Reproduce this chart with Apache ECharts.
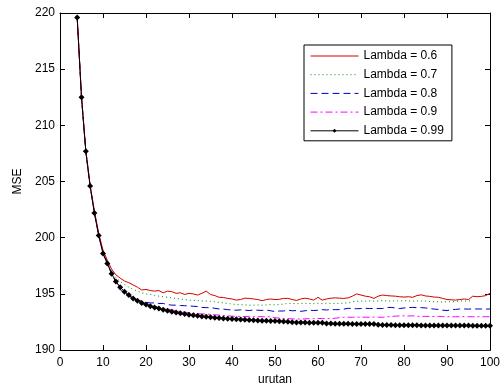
<!DOCTYPE html>
<html><head><meta charset="utf-8">
<script src="https://cdn.jsdelivr.net/npm/echarts@6/dist/echarts.min.js"></script>
<style>html,body{margin:0;padding:0;background:#fff}#c{width:503px;height:391px}</style>
</head><body><div id="c"></div>
<script>
const xStart = 4;
const seriesNames = ['Lambda = 0.6','Lambda = 0.7','Lambda = 0.8','Lambda = 0.9','Lambda = 0.99'];
const xTicks = [0,10,20,30,40,50,60,70,80,90,100];
const yTicks = [190,195,200,205,210,215,220];

const lambda06 = [219.6,212.6,207.8,204.7,202.4,200.4,198.9,198.0,197.2,196.7,196.4,196.15,196.0,195.8,195.6,195.35,195.4,195.3,195.25,195.3,195.1,195.25,195.2,195.05,195.1,194.95,195.05,195.0,194.9,195.05,195.25,194.95,194.85,194.7,194.68,194.6,194.55,194.45,194.5,194.62,194.6,194.55,194.5,194.4,194.5,194.55,194.5,194.52,194.6,194.6,194.5,194.42,194.55,194.62,194.55,194.45,194.7,194.45,194.55,194.62,194.65,194.62,194.6,194.65,194.8,195.0,194.9,194.8,194.75,194.6,194.8,194.9,194.85,194.82,194.8,194.75,194.72,194.75,194.7,194.85,194.92,194.82,194.78,194.72,194.7,194.6,194.5,194.48,194.45,194.5,194.55,194.5,194.8,194.75,194.78,194.85,195.05];
const lambda07 = [219.6,212.55,207.75,204.65,202.3,200.3,198.8,197.85,197.0,196.45,196.1,195.85,195.6,195.4,195.25,195.1,195.0,194.95,194.85,194.8,194.75,194.7,194.65,194.6,194.55,194.5,194.45,194.43,194.4,194.38,194.36,194.35,194.3,194.25,194.2,194.15,194.1,194.05,194.05,194.02,194.0,194.0,194.02,194.0,194.02,194.05,194.03,194.05,194.1,194.15,194.15,194.13,194.15,194.16,194.15,194.14,194.16,194.15,194.17,194.15,194.16,194.15,194.18,194.2,194.3,194.35,194.36,194.35,194.38,194.36,194.37,194.4,194.38,194.36,194.38,194.37,194.4,194.38,194.36,194.38,194.37,194.36,194.32,194.3,194.3,194.28,194.3,194.3,194.32,194.38,194.36,194.38,194.37];
const lambda08 = [219.6,212.5,207.7,204.6,202.25,200.25,198.7,197.75,196.85,196.1,195.4,195.0,194.8,194.6,194.45,194.35,194.25,194.2,194.2,194.15,194.15,194.05,194.0,194.0,193.97,193.95,193.93,193.9,193.88,193.8,193.78,193.78,193.72,193.66,193.65,193.6,193.57,193.55,193.58,193.55,193.52,193.57,193.55,193.53,193.56,193.5,193.43,193.48,193.48,193.55,193.5,193.52,193.45,193.5,193.55,193.52,193.55,193.6,193.57,193.6,193.6,193.6,193.65,193.72,193.7,193.68,193.7,193.72,193.7,193.7,193.7,193.7,193.78,193.8,193.75,193.7,193.75,193.78,193.8,193.78,193.78,193.75,193.7,193.65,193.62,193.55,193.52,193.6,193.62,193.66,193.66,193.65,193.66,193.66,193.66,193.65,193.66];
const lambda09 = [219.62,212.52,207.72,204.62,202.22,200.22,198.62,197.72,196.75,196.1,195.6,195.2,194.9,194.65,194.45,194.3,194.15,194.0,193.9,193.8,193.72,193.65,193.58,193.5,193.43,193.38,193.32,193.28,193.24,193.22,193.2,193.18,193.14,193.12,193.08,193.05,193.02,193.0,193.0,192.99,193.0,192.98,192.98,192.97,192.98,192.96,192.88,192.85,192.82,192.8,192.78,192.77,192.76,192.78,192.8,192.8,192.82,192.8,192.81,192.8,192.84,192.88,192.92,192.93,192.92,192.93,192.92,192.93,192.92,192.94,192.93,192.92,192.95,193.0,193.02,193.04,193.05,193.03,193.05,193.02,193.0,193.0,193.0,192.99,193.0,192.98,192.97,192.96,192.97,192.97,192.98,192.97,192.97,192.97,192.97,192.97,192.97];
const lambda099 = [219.6,212.5,207.7,204.6,202.2,200.2,198.6,197.7,196.8,196.1,195.6,195.2,194.9,194.6,194.4,194.2,194.05,193.9,193.8,193.7,193.6,193.5,193.42,193.35,193.28,193.22,193.15,193.1,193.05,193.0,192.96,192.92,192.88,192.85,192.82,192.79,192.76,192.74,192.72,192.7,192.68,192.66,192.64,192.62,192.61,192.6,192.58,192.56,192.54,192.52,192.48,192.46,192.45,192.45,192.44,192.44,192.43,192.43,192.36,192.36,192.35,192.35,192.34,192.34,192.33,192.33,192.33,192.32,192.32,192.32,192.25,192.24,192.23,192.23,192.22,192.22,192.22,192.21,192.21,192.21,192.2,192.2,192.2,192.2,192.19,192.19,192.19,192.19,192.18,192.18,192.18,192.18,192.17,192.17,192.17,192.17,192.16];

const allSeries = [lambda06, lambda07, lambda08, lambda09, lambda099];
const colors = ['#d40000','#008a00','#0000c8','#ff00ff','#000000'];
const dashes = ['solid',[1,3],[7,4],[7,3,2,3],'solid'];

function toPairs(arr){ return arr.map((v,i)=>[xStart+i, v]); }

const font = 'Liberation Sans, Arial, sans-serif';
const chart = echarts.init(document.getElementById('c'), null, {renderer:'canvas'});
const axisCommon = {
  axisLine:{show:true, onZero:false, lineStyle:{color:'#000', width:1}},
  axisTick:{show:true, inside:true, length:5, lineStyle:{color:'#000'}},
  splitLine:{show:false}
};
chart.setOption({
  animation:false,
  backgroundColor:'#fff',
  color: colors,
  grid:{left:60, right:10, top:13, bottom:37, containLabel:false},
  xAxis:[
    Object.assign({type:'value', min:0, max:100, interval:10, position:'bottom',
      name:'urutan', nameLocation:'middle', nameGap:23,
      nameTextStyle:{fontFamily:font, fontSize:12, color:'#000'},
      axisLabel:{fontFamily:font, fontSize:12, color:'#000', margin:7, formatter:v=>xTicks.includes(v)?String(v):''}}, axisCommon),
    Object.assign({type:'value', min:0, max:100, interval:10, position:'top', axisLabel:{show:false}}, axisCommon)
  ],
  yAxis:[
    Object.assign({type:'value', min:190, max:220, interval:5, position:'left',
      name:'MSE', nameLocation:'middle', nameGap:34, nameRotate:90,
      nameTextStyle:{fontFamily:font, fontSize:12, color:'#000'},
      axisLabel:{fontFamily:font, fontSize:12, color:'#000', margin:5, formatter:v=>yTicks.includes(v)?String(v):''}}, axisCommon),
    Object.assign({type:'value', min:190, max:220, interval:5, position:'right', axisLabel:{show:false}}, axisCommon)
  ],
  legend:{
    orient:'vertical', left:304, top:45,
    backgroundColor:'#fff', borderColor:'#000', borderWidth:1,
    padding:[5,8,4,6], itemGap:6.7, itemWidth:48, itemHeight:5,
    lineStyle:{width:1},
    textStyle:{fontFamily:font, fontSize:12, color:'#000'},
    data: seriesNames.map((n,i)=> i<4 ? {name:n, itemStyle:{opacity:0}} : {name:n})
  },
  series: allSeries.map((arr,i)=>({
    name: seriesNames[i], type:'line', data: toPairs(arr),
    xAxisIndex:0, yAxisIndex:0,
    symbol: i===4 ? 'diamond' : 'none',
    symbolSize: i===4 ? 6 : 0,
    showSymbol: i===4,
    itemStyle:{color:colors[i]},
    lineStyle:{color:colors[i], width:1, type:dashes[i]},
    z: i===4 ? 10 : 5-i
  }))
});
</script></body></html>
